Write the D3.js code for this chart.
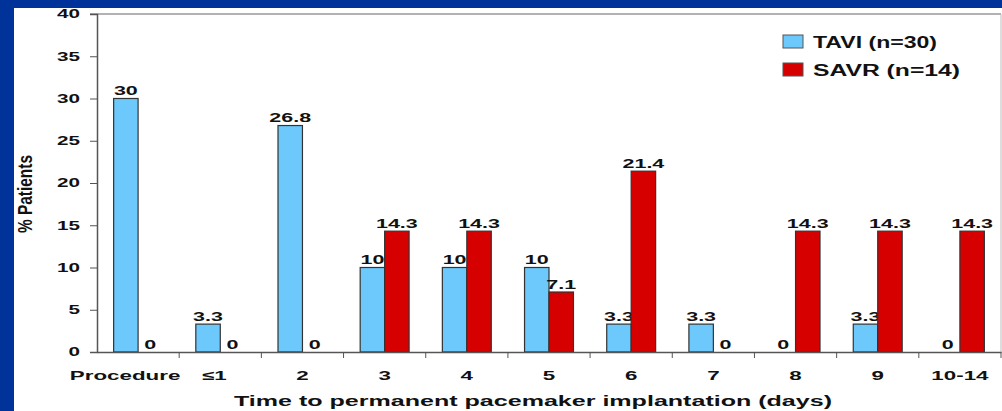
<!DOCTYPE html>
<html>
<head>
<meta charset="utf-8">
<script src="https://cdn.jsdelivr.net/npm/d3@7"></script>
<style>
  html, body { margin: 0; padding: 0; background: #003399; }
  svg { display: block; }
  text { font-family: "Liberation Sans", Arial, sans-serif; fill: #111; }
</style>
</head>
<body>
<svg id="chart" width="1002" height="411"></svg>
<script>
// Time to permanent pacemaker implantation, % of patients per group
const categories = ["Procedure", "\u22641", "2", "3", "4", "5", "6", "7", "8", "9", "10-14"];
const taviValues = [30, 3.3, 26.8, 10, 10, 10, 3.3, 3.3, 0, 3.3, 0];
const savrValues = [0, 0, 0, 14.3, 14.3, 7.1, 21.4, 0, 14.3, 14.3, 14.3];
const taviLabels = ["30", "3.3", "26.8", "10", "10", "10", "3.3", "3.3", "0", "3.3", "0"];
const savrLabels = ["0", "0", "0", "14.3", "14.3", "7.1", "21.4", "0", "14.3", "14.3", "14.3"];
const seriesNames = ["TAVI (n=30)", "SAVR (n=14)"];
const yTicks = [0, 5, 10, 15, 20, 25, 30, 35, 40];

const colors = ["#6dc9fb", "#d60000"];
const W = 1002, H = 411;
const margin = { left: 97, right: 1, top: 14, bottom: 59 };
const SX = 1.72; // wide lettering: horizontal stretch of label glyphs

const svg = d3.select("#chart");

// white panel on the blue slide
svg.append("rect").attr("x", 14).attr("y", 8).attr("width", W - 14).attr("height", H - 8).attr("fill", "#fff");

const x = d3.scaleBand().domain(categories).range([margin.left, W - margin.right]);
const inner = d3.scaleBand().domain([0, 1]).range([0, x.bandwidth()]).paddingInner(0).paddingOuter(0.68);
const y = d3.scaleLinear().domain([0, 40]).range([H - margin.bottom, margin.top]);

// frame lines on top and right
svg.append("line").attr("x1", margin.left - 7).attr("x2", W - margin.right)
  .attr("y1", y(40)).attr("y2", y(40)).attr("stroke", "#999").attr("stroke-width", 1.5);
svg.append("line").attr("x1", W - margin.right).attr("x2", W - margin.right)
  .attr("y1", y(40)).attr("y2", y(0)).attr("stroke", "#bbb").attr("stroke-width", 1);

// bars and value labels
const series = [taviValues, savrValues];
const labels = [taviLabels, savrLabels];
series.forEach((vals, s) => {
  const g = svg.append("g");
  g.selectAll("rect").data(vals).join("rect")
    .attr("x", (d, i) => x(categories[i]) + inner(s))
    .attr("width", inner.bandwidth())
    .attr("y", d => y(d))
    .attr("height", d => y(0) - y(d))
    .attr("fill", colors[s])
    .attr("stroke", d => d > 0 ? "#333" : "none")
    .attr("stroke-width", 1.2);
  g.selectAll("text").data(vals).join("text")
    .attr("transform", (d, i) =>
      `translate(${x(categories[i]) + inner(s) + inner.bandwidth() / 2},${y(d) - 3.5}) scale(${SX},1)`)
    .attr("text-anchor", "middle")
    .attr("font-size", 12.5)
    .attr("font-weight", "bold")
    .text((d, i) => labels[s][i]);
});

// y axis
const yAxis = svg.append("g").attr("transform", `translate(${margin.left},0)`)
  .call(d3.axisLeft(y).tickValues(yTicks).tickSize(7).tickPadding(0));
yAxis.selectAll(".tick text")
  .attr("x", -17 / SX).attr("transform", `scale(${SX},1)`)
  .attr("font-size", 12).attr("font-weight", "bold")
  .attr("font-family", "Liberation Sans, Arial, sans-serif").attr("fill", "#111");

// x axis
const xAxis = svg.append("g").attr("transform", `translate(0,${y(0)})`)
  .call(d3.axisBottom(x).tickSize(0).tickPadding(0));
xAxis.selectAll(".tick text")
  .attr("y", 28).attr("dy", 0)
  .attr("x", (d, i) => (i === 0 ? -13 : i === 1 ? -6 : 0) / SX)
  .attr("transform", `scale(${SX},1)`)
  .attr("font-size", 13).attr("font-weight", "bold")
  .attr("font-family", "Liberation Sans, Arial, sans-serif").attr("fill", "#111");
// tick marks on category boundaries
xAxis.selectAll(".boundary").data(categories).join("line")
  .attr("x1", d => x(d) + x.step())
  .attr("x2", d => x(d) + x.step())
  .attr("y1", 0).attr("y2", 6).attr("stroke", "#555");
[yAxis, xAxis].forEach(a => {
  a.select(".domain").attr("stroke", "#555").attr("stroke-width", 1.5);
  a.selectAll(".tick line").attr("stroke", "#555");
});

// axis titles
svg.append("text").attr("x", 234).attr("y", 406)
  .attr("font-size", 14.5).attr("font-weight", "bold")
  .attr("textLength", 598).attr("lengthAdjust", "spacingAndGlyphs")
  .text("Time to permanent pacemaker implantation (days)");
svg.append("text").attr("transform", "translate(32,233) scale(1.4,1) rotate(-90)")
  .attr("font-size", 15).attr("font-weight", "bold")
  .attr("textLength", 78).attr("lengthAdjust", "spacingAndGlyphs")
  .text("% Patients");

// legend
const legendText = [124, 147];
const legend = svg.append("g").attr("transform", "translate(783,35)");
seriesNames.forEach((name, i) => {
  legend.append("rect").attr("x", 0).attr("y", i * 28).attr("width", 20).attr("height", 13)
    .attr("fill", colors[i]).attr("stroke", "#555").attr("stroke-width", 1);
  legend.append("text").attr("x", 30).attr("y", i * 28 + 12.5)
    .attr("font-size", 16).attr("font-weight", "bold")
    .attr("textLength", legendText[i]).attr("lengthAdjust", "spacingAndGlyphs")
    .text(name);
});
</script>
</body>
</html>
